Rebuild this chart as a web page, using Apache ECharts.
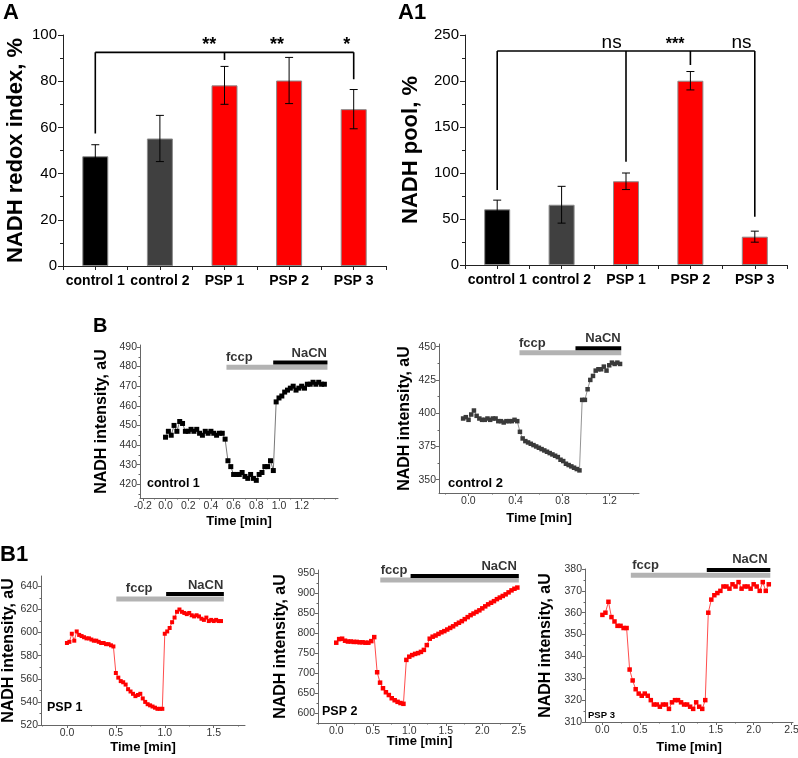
<!DOCTYPE html>
<html>
<head>
<meta charset="utf-8">
<script src="https://cdn.jsdelivr.net/npm/echarts@6/dist/echarts.min.js"></script>
<style>
html, body { margin: 0; padding: 0; background: #fff; }
#chart { width: 798px; height: 758px; }
</style>
</head>
<body>
<div id="chart"></div>
<script>
// ---- bar panels (A, A1) ----
const groups = ["control 1", "control 2", "PSP 1", "PSP 2", "PSP 3"];
const redoxMean = [47.5, 55.2, 78.2, 80.3, 67.9];
const redoxErr = [5, 10, 8.2, 10, 8.5];
const poolMean = [60.5, 65.5, 91, 200.3, 30.8];
const poolErr = [10, 20, 9, 10, 6];
const barColors = ["#000000", "#404040", "#ff0000", "#ff0000", "#ff0000"];

// significance brackets (x on a 0..10 half-band scale, y in data units)
const redoxBracketY = 92.5;
const redoxLegX = [1, 5, 9];
const redoxLegEnd = [57.4, 89.2, 80.8];
const redoxStars = ["**", "**", "*"];
const redoxStarX = [4.54, 6.64, 8.8];
const poolBracketY = 232.6;
const poolLegX = [1, 5, 7, 9];
const poolLegEnd = [81.5, 112.3, 217.4, 52.5];
const poolStars = ["ns", "***", "ns"];
const poolStarX = [4.57, 6.54, 8.6];

// ---- NADH traces: first sample time, sampling step (min), values (aU) ----
const c1Start = 0, c1Step = 0.025;
const c1Values = [444, 447, 445, 450, 447, 452, 451, 447, 447, 448, 447, 448, 446, 445, 447, 446, 447, 446, 445, 446, 446,
  443, 432, 429, 425, 425, 425, 426, 424, 423, 425, 423, 422, 425, 426, 429, 429, 432, 427,
  462, 464, 465, 467, 468, 469, 470, 468, 469, 470, 469, 471, 471, 472, 471, 472, 471, 471];
const c2Start = -0.045, c2Step = 0.023;
const c2Values = [396, 397, 395, 399, 402, 398, 396, 395, 395, 396, 395, 396, 396, 394, 394, 393, 394, 394, 394, 395, 394,
  386, 381, 379, 378, 377, 376, 375, 374, 373, 372, 371, 370, 369, 368, 367, 365, 364, 362, 361, 360, 359, 358, 357,
  410, 410, 418, 425, 428, 432, 433, 433, 435, 432, 436, 438, 437, 438, 437];
const p1Start = 0, p1Step = 0.025;
const p1Values = [591, 592, 599, 593, 601, 598, 597, 596, 595, 595, 594, 593, 593, 592, 591, 591, 590, 590, 589, 588,
  565, 561, 558, 557, 555, 551, 549, 547, 545, 546, 547, 543, 540, 538, 537, 536, 535, 534, 534, 534,
  599, 601, 604, 609, 613, 618, 620, 618, 617, 616, 617, 615, 614, 615, 614, 612, 611, 613, 610, 611, 610, 611, 610, 610];
const p2Start = 0, p2Step = 0.04;
const p2Values = [776, 785, 786, 781, 779, 779, 778, 778, 777, 777, 776, 776, 780, 790,
  702, 676, 662, 652, 645, 637, 632, 628, 625, 623,
  733, 741, 745, 748, 750, 753, 758, 770, 786, 791, 794, 798, 802, 805, 809, 813, 817, 822, 826, 830,
  835, 840, 845, 849, 853, 857, 862, 867, 872, 876, 880, 885, 889, 893, 897, 902, 907, 911, 914];
const p3Start = 0, p3Step = 0.04;
const p3Values = [359, 360, 365, 358, 356, 354, 354, 353, 353,
  334, 329, 325, 323, 322, 323, 322, 320, 318, 318, 317, 318, 318, 316, 319, 320, 320, 319, 318, 318, 317, 316, 319, 317, 316, 320,
  360, 366, 368, 369, 370, 372, 372, 371, 373, 372, 374, 371, 372, 372, 371, 373, 372, 370, 374, 370, 373];

// drug application periods [start, end] in min
const c1Fccp = [0.537, 1.427], c1NaCN = [0.949, 1.427];
const c2Fccp = [0.434, 1.299], c2NaCN = [0.91, 1.299];
const p1Fccp = [0.505, 1.604], p1NaCN = [1.014, 1.604];
const p2Fccp = [0.603, 2.5], p2NaCN = [1.018, 2.5];
const p3Fccp = [0.376, 2.22], p3NaCN = [1.38, 2.22];

// tick labels
const c1XTicks = [-0.2, 0, 0.2, 0.4, 0.6, 0.8, 1.0, 1.2];
const c1YTicks = [420, 430, 440, 450, 460, 470, 480, 490];
const c2XTicks = [0, 0.4, 0.8, 1.2];
const c2YTicks = [350, 375, 400, 425, 450];
const p1XTicks = [0, 0.5, 1.0, 1.5];
const p1YTicks = [520, 540, 560, 580, 600, 620, 640];
const p2XTicks = [0, 0.5, 1.0, 1.5, 2.0, 2.5];
const p2YTicks = [600, 650, 700, 750, 800, 850, 900, 950];
const p3XTicks = [0, 0.5, 1.0, 1.5, 2.0, 2.5];
const p3YTicks = [310, 320, 330, 340, 350, 360, 370, 380];

const FONT = "'Liberation Sans', Arial, sans-serif";
const toPts = (start, step, vals) => vals.map((v, i) => [+(start + i * step).toFixed(4), v]);

function minorList(min, max, step) {
  const out = [];
  for (let v = Math.ceil(min / step - 1e-9) * step; v <= max + 1e-9; v += step) out.push(+v.toFixed(4));
  return out;
}

// major axis (line, labels, long ticks) + hidden twin carrying the short minor ticks
function axisPair(dim, grid, min, max, majors, minorStep, o) {
  const pos = dim === "x" ? "bottom" : "left";
  const fmt = dim === "x" ? (v => Number(v).toFixed(1)) : (v => String(Math.round(v)));
  const base = { type: "value", gridIndex: grid, min, max, position: pos, splitLine: { show: false } };
  const major = Object.assign({}, base, {
    axisLine: { show: true, onZero: false, lineStyle: { color: "#666", width: 1 } },
    axisTick: { show: true, length: 3, customValues: majors, lineStyle: { color: "#666" } },
    axisLabel: { customValues: majors, formatter: fmt, fontSize: o.fontSize || 10, color: "#333", margin: 3, fontFamily: FONT },
    name: o.name, nameLocation: "middle", nameGap: o.nameGap, nameMoveOverlap: false,
    nameTextStyle: { fontSize: o.nameSize, fontWeight: "bold", color: "#000", fontFamily: FONT }
  });
  const minor = Object.assign({}, base, {
    axisLine: { show: false, onZero: false },
    axisLabel: { show: false },
    axisTick: { show: true, length: 1.5, customValues: minorList(min, max, minorStep), lineStyle: { color: "#666" } }
  });
  return [major, minor];
}

const grids = [
  { left: 63, top: 35, width: 323, height: 231 },
  { left: 465, top: 35, width: 322, height: 230 },
  { left: 140, top: 345, width: 198, height: 153 },
  { left: 439, top: 344, width: 200, height: 149 },
  { left: 41, top: 576, width: 204, height: 149 },
  { left: 318, top: 570, width: 203, height: 153 },
  { left: 585, top: 569, width: 208, height: 153 }
].map(g => Object.assign({ containLabel: false, outerBoundsMode: "none" }, g));

const xAxes = [];
const yAxes = [];
const series = [];

// ---------- bar panels ----------
function barPanel(grid, means, errs, yMax, yStep, yName, yNameGap, bracketY, legX, legEnd, stars, starX, starY, starStyles) {
  const cat = xAxes.length;
  xAxes.push({
    type: "category", gridIndex: grid, data: groups, position: "bottom",
    axisLine: { show: true, onZero: false, lineStyle: { color: "#222" } },
    axisTick: { show: false },
    axisLabel: { fontSize: 14, fontWeight: "bold", color: "#000", margin: 8, fontFamily: FONT, interval: 0 }
  });
  const tick = xAxes.length;
  xAxes.push({
    type: "value", gridIndex: grid, min: 0, max: 10, interval: 1, position: "bottom",
    axisLine: { show: false, onZero: false }, axisLabel: { show: false }, splitLine: { show: false },
    axisTick: { show: true, length: 4, lineStyle: { color: "#222" } }
  });
  const y = yAxes.length;
  yAxes.push({
    type: "value", gridIndex: grid, min: 0, max: yMax, interval: yStep, position: "left",
    axisLine: { show: true, onZero: false, lineStyle: { color: "#222" } },
    axisTick: { show: true, length: 5, lineStyle: { color: "#222" } },
    minorTick: { show: true, splitNumber: 2, length: 3, lineStyle: { color: "#222" } },
    splitLine: { show: false },
    axisLabel: { fontSize: 15, color: "#000", margin: 6, fontFamily: FONT },
    name: yName, nameLocation: "middle", nameGap: yNameGap, nameMoveOverlap: false,
    nameTextStyle: { fontSize: 22, fontWeight: "bold", color: "#000", fontFamily: FONT }
  });
  series.push({
    type: "bar", xAxisIndex: cat, yAxisIndex: y, barWidth: 26, z: 2,
    itemStyle: { borderColor: "#8c8c8c", borderWidth: 1 },
    data: means.map((v, i) => ({ value: v, itemStyle: { color: barColors[i] } }))
  });
  series.push({
    type: "custom", xAxisIndex: cat, yAxisIndex: y, z: 3,
    data: means.map((v, i) => [i, v, errs[i]]),
    encode: { x: 0, y: 1 },
    renderItem(params, api) {
      const i = api.value(0), m = api.value(1), e = api.value(2);
      const top = api.coord([i, m + e]);
      const bot = api.coord([i, m - e]);
      const hw = 4;
      const st = { stroke: "#000", lineWidth: 1 };
      return {
        type: "group", children: [
          { type: "line", shape: { x1: top[0], y1: top[1], x2: bot[0], y2: bot[1] }, style: st },
          { type: "line", shape: { x1: top[0] - hw, y1: top[1], x2: top[0] + hw, y2: top[1] }, style: st },
          { type: "line", shape: { x1: bot[0] - hw, y1: bot[1], x2: bot[0] + hw, y2: bot[1] }, style: st }
        ]
      };
    }
  });
  const seg = pts => ({
    type: "line", xAxisIndex: tick, yAxisIndex: y, data: pts, symbol: "none", silent: true, z: 5, clip: false,
    lineStyle: { color: "#000", width: 1.6 }
  });
  series.push(seg([[legX[0], bracketY], [legX[legX.length - 1], bracketY]]));
  legX.forEach((x, i) => series.push(seg([[x, bracketY], [x, legEnd[i]]])));
  series.push({
    type: "scatter", xAxisIndex: tick, yAxisIndex: y, symbolSize: 1, clip: false, silent: true, z: 6,
    itemStyle: { color: "rgba(0,0,0,0)" },
    data: stars.map((s, i) => ({
      value: [starX[i], starY], name: s,
      label: Object.assign({ color: "#000000", opacity: 1 }, starStyles[i])
    })),
    label: { show: true, position: [0, 0], align: "center", verticalAlign: "middle", formatter: p => p.name,
      color: "#000000", fontFamily: FONT, textBorderWidth: 0 }
  });
}

const starBold = { fontSize: 18, fontWeight: "bold" };
const nsText = { fontSize: 19, fontWeight: "normal" };
barPanel(0, redoxMean, redoxErr, 100, 20, "NADH redox index, %", 36,
  redoxBracketY, redoxLegX, redoxLegEnd, redoxStars, redoxStarX, 95.5, [starBold, starBold, starBold]);
barPanel(1, poolMean, poolErr, 250, 50, "NADH pool, %", 43,
  poolBracketY, poolLegX, poolLegEnd, poolStars, poolStarX, 241,
  [nsText, { fontSize: 16, fontWeight: "bold", offset: [0, 2] }, nsText]);

// ---------- trace panels ----------
const panels = [
  { grid: 2, pts: toPts(c1Start, c1Step, c1Values), fccp: c1Fccp, nacn: c1NaCN, color: "#000000", line: "#555555", size: 5,
    x: [-0.225, 1.52, c1XTicks, 0.1], y: [413, 491, c1YTicks, 5], yGap: 30, xGap: 17,
    barY: [479.6, 482.1], textY: [484.3, 486.6] },
  { grid: 3, pts: toPts(c2Start, c2Step, c2Values), fccp: c2Fccp, nacn: c2NaCN, color: "#3a3a3a", line: "#777777", size: 4.5,
    x: [-0.25, 1.45, c2XTicks, 0.2], y: [340, 452, c2YTicks, 12.5], yGap: 26, xGap: 19,
    barY: [445.5, 448.8], textY: [452.2, 455.7] },
  { grid: 4, pts: toPts(p1Start, p1Step, p1Values), fccp: p1Fccp, nacn: p1NaCN, color: "#ff0000", line: "#ff2020", size: 4,
    x: [-0.265, 1.82, p1XTicks, 0.25], y: [520, 649, p1YTicks, 10], yGap: 24, xGap: 16,
    barY: [629, 633.4], textY: [637.5, 640], fccpText: 0.607 },
  { grid: 5, pts: toPts(p2Start, p2Step, p2Values), fccp: p2Fccp, nacn: p2NaCN, color: "#ff0000", line: "#ff2020", size: 4.5,
    x: [-0.25, 2.53, p2XTicks, 0.25], y: [575, 958, p2YTicks, 25], yGap: 29, xGap: 12,
    barY: [933, 943], textY: [956, 965], fccpText: 0.615, nacnText: 2.48 },
  { grid: 6, pts: toPts(p3Start, p3Step, p3Values), fccp: p3Fccp, nacn: p3NaCN, color: "#ff0000", line: "#ff2020", size: 4.5,
    x: [-0.23, 2.52, p3XTicks, 0.25], y: [310, 380, p3YTicks, 5], yGap: 31, xGap: 19,
    barY: [377.1, 379.5], textY: [381.6, 384.2], fccpText: 0.4, nacnText: 2.19 }
];

panels.forEach(p => {
  const xi = xAxes.length, yi = yAxes.length;
  xAxes.push(...axisPair("x", p.grid, p.x[0], p.x[1], p.x[2], p.x[3], { name: "Time [min]", nameGap: p.xGap, nameSize: 13, fontSize: 10.5 }));
  yAxes.push(...axisPair("y", p.grid, p.y[0], p.y[1], p.y[2], p.y[3], { name: "NADH intensity, aU", nameGap: p.yGap, nameSize: 16, fontSize: 10.5 }));
  series.push({
    type: "line", xAxisIndex: xi, yAxisIndex: yi, data: p.pts, z: 3,
    symbol: "rect", symbolSize: p.size, showSymbol: true,
    itemStyle: { color: p.color }, lineStyle: { color: p.line, width: 0.8 }
  });
  const bar = (range, yv, color, w) => ({
    type: "line", xAxisIndex: xi, yAxisIndex: yi, symbol: "none", silent: true, clip: false, z: 4,
    data: [[range[0], yv], [range[1], yv]], lineStyle: { color, width: w }
  });
  series.push(bar(p.fccp, p.barY[0], "#b3b3b3", 5));
  series.push(bar(p.nacn, p.barY[1], "#000000", 4));
  const txt = (xv, yv, s, align) => ({
    type: "scatter", xAxisIndex: xi, yAxisIndex: yi, symbolSize: 1, clip: false, silent: true, z: 6,
    itemStyle: { color: "rgba(0,0,0,0)" },
    data: [[xv, yv]],
    label: { show: true, position: [0, 0], align, verticalAlign: "middle", formatter: s,
      fontSize: 13, fontWeight: "bold", color: "#000", fontFamily: FONT }
  });
  series.push(txt(p.fccpText != null ? p.fccpText : p.fccp[0], p.textY[0], "fccp", "left"));
  series.push(txt(p.nacnText != null ? p.nacnText : p.nacn[1], p.textY[1], "NaCN", "right"));
});

const gtext = (x, y, text, size, extra) => Object.assign({
  type: "text", x, y,
  style: { text, fontSize: size, fontWeight: "bold", fill: "#000", fontFamily: FONT, textVerticalAlign: "middle" }
}, extra || {});

const chart = echarts.init(document.getElementById("chart"), null, { renderer: "canvas" });
chart.setOption({
  animation: false,
  backgroundColor: "#fff",
  textStyle: { fontFamily: FONT },
  grid: grids,
  xAxis: xAxes,
  yAxis: yAxes,
  series,
  graphic: [
    gtext(3, 13, "A", 22),
    gtext(398, 13, "A1", 22),
    gtext(93, 326, "B", 20),
    gtext(0, 555, "B1", 22),
    gtext(147, 484, "control 1", 12.5),
    gtext(448, 483, "control 2", 13),
    gtext(47, 708, "PSP 1", 12.5),
    gtext(322, 712, "PSP 2", 12.5),
    gtext(588, 715, "PSP 3", 9.5)
  ]
});
</script>
</body>
</html>
